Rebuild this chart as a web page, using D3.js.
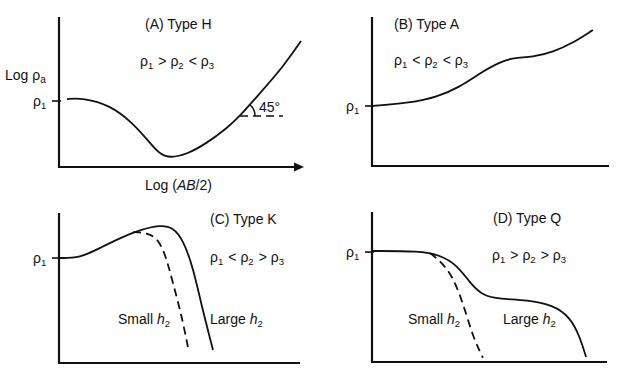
<!DOCTYPE html>
<html>
<head>
<meta charset="utf-8">
<script src="https://cdn.jsdelivr.net/npm/d3@7"></script>
<style>
  body { margin: 0; background: #fff; }
  svg { display: block; font-family: "Liberation Sans", Arial, sans-serif; }
  text { fill: #111; }
</style>
</head>
<body>
<svg id="chart" width="641" height="387"></svg>
<script>
// curve points in [log AB/2, log rho_a] units, axes run 0..10 each way
const curveH = [[0.33,4.53],[0.98,4.6],[2.09,4.13],[3.03,2.93],[3.73,1.6],[4.14,0.85],[4.55,0.6],
  [5.25,0.85],[6.07,1.6],[6.89,2.6],[7.42,3.4],[8.24,4.93],[9.18,6.67],[9.92,8.4]];
const curveA = [[0.04,4.03],[1.6,4.23],[2.74,4.63],[3.71,5.3],[4.56,6.24],[5.4,6.98],[5.95,7.25],
  [6.79,7.32],[7.64,7.65],[8.48,8.26],[9.32,9.13]];
const curveKLarge = [[0.0,7.0],[0.87,7.0],[1.7,7.67],[2.53,8.33],[3.36,8.87],[4.19,9.2],[4.73,9.05],
  [5.15,8.2],[5.56,6.4],[5.93,3.73],[6.39,0.87]];
const curveKSmall = [[3.07,8.73],[3.65,8.67],[4.07,8.33],[4.4,7.33],[4.73,5.33],[5.1,3.07],[5.35,1.07]];
const curveQLarge = [[0.0,7.4],[2.04,7.4],[2.89,7.13],[3.62,6.47],[4.17,5.27],[4.72,4.4],[5.45,4.2],
  [6.6,4.13],[7.7,3.8],[8.43,3.0],[8.85,1.67],[9.11,0.33]];
const curveQSmall = [[2.47,7.27],[3.19,6.33],[3.62,5.0],[3.96,3.47],[4.3,1.67],[4.72,0.27]];
const rho1Level = { A: 4.4, B: 4.03, C: 7.0, D: 7.33 };
const angleStart = [7.42, 3.4];   // where the 45 degree tangent is marked
const angleLineEnd = 9.18;

const svg = d3.select('#chart');
const ink = '#111';
const FS = 14;

// ─── panel frames (pixel layout) ───────────────────────────────
const panels = {
  A: { x0: 59, x1: 303, y0: 167, y1: 17 },
  B: { x0: 372, x1: 609, y0: 166, y1: 17 },
  C: { x0: 59, x1: 300, y0: 363, y1: 213 },
  D: { x0: 372, x1: 607, y0: 362, y1: 212 }
};

function scalesFor(p) {
  return {
    x: d3.scaleLinear().domain([0, 10]).range([p.x0, p.x1]),
    y: d3.scaleLinear().domain([0, 10]).range([p.y0, p.y1])
  };
}

const line = s => d3.line().x(d => s.x(d[0])).y(d => s.y(d[1])).curve(d3.curveBasis);

// text with optional subscripts / italics
function rhoText(g, x, y, parts, size) {
  const t = g.append('text').attr('x', x).attr('y', y).style('font-size', size + 'px');
  parts.forEach(p => {
    if (p.sub) {
      t.append('tspan').text(p.text).attr('dy', 3).style('font-size', (size * 0.68) + 'px');
      t.append('tspan').text('\u200a').attr('dy', -3);
    } else {
      t.append('tspan').text(p.text).style('font-style', p.italic ? 'italic' : null);
    }
  });
  return t;
}

function relation(g, x, y, ops) {
  const parts = [{ text: 'ρ' }, { text: '1', sub: true }, { text: ' ' + ops[0] + ' ρ' }, { text: '2', sub: true },
    { text: ' ' + ops[1] + ' ρ' }, { text: '3', sub: true }];
  rhoText(g, x, y, parts, FS);
}

function drawPanel(key, arrow) {
  const p = panels[key];
  const s = scalesFor(p);
  const g = svg.append('g');

  g.append('path')
    .attr('d', `M${p.x0},${p.y1} V${p.y0} H${arrow ? p.x1 - 6 : p.x1}`)
    .attr('fill', 'none').attr('stroke', ink).attr('stroke-width', 2.2);
  if (arrow) {
    g.append('path')
      .attr('d', `M${p.x1 - 9},${p.y0 - 4.5} L${p.x1 + 1},${p.y0} L${p.x1 - 9},${p.y0 + 4.5} Z`)
      .attr('fill', ink);
  }
  // rho1 tick
  const ty = s.y(rho1Level[key]);
  g.append('line').attr('x1', p.x0 - 7).attr('x2', p.x0 + 2).attr('y1', ty).attr('y2', ty)
    .attr('stroke', ink).attr('stroke-width', 1.6);
  rhoText(g, p.x0 - 26, ty + 5, [{ text: 'ρ' }, { text: '1', sub: true }], FS);

  return { g, s };
}

function curve(g, s, data, dashed) {
  g.append('path').datum(data).attr('d', line(s)).attr('fill', 'none')
    .attr('stroke', ink).attr('stroke-width', 1.8)
    .attr('stroke-dasharray', dashed ? '8,5' : null);
}

// ─── (A) Type H ───────────────────────────────
{
  const { g, s } = drawPanel('A', true);
  curve(g, s, curveH);
  const ax = s.x(angleStart[0]), ay = s.y(angleStart[1]);
  g.append('line').attr('x1', ax).attr('x2', s.x(angleLineEnd)).attr('y1', ay).attr('y2', ay)
    .attr('stroke', ink).attr('stroke-width', 1.6).attr('stroke-dasharray', '8,5');
  const r = 15;
  const arc = d3.arc().innerRadius(r).outerRadius(r).startAngle(Math.PI / 2).endAngle(Math.PI / 2 - 0.85);
  g.append('path').attr('d', arc()).attr('transform', `translate(${ax},${ay})`)
    .attr('fill', 'none').attr('stroke', ink).attr('stroke-width', 1.5);
  g.append('text').attr('x', 259).attr('y', 112).style('font-size', FS + 'px').text('45°');

  g.append('text').attr('x', 145).attr('y', 29).style('font-size', FS + 'px').text('(A) Type H');
  relation(g, 140, 66, ['>', '<']);
  const yl = g.append('text').attr('x', 5).attr('y', 80).style('font-size', FS + 'px');
  yl.append('tspan').text('Log ρ');
  yl.append('tspan').text('a').attr('dy', 3).style('font-size', '10px');
  const xl = g.append('text').attr('x', 145).attr('y', 190).style('font-size', FS + 'px');
  xl.append('tspan').text('Log (');
  xl.append('tspan').text('AB').style('font-style', 'italic');
  xl.append('tspan').text('/2)');
}

// ─── (B) Type A ───────────────────────────────
{
  const { g, s } = drawPanel('B', false);
  curve(g, s, curveA);
  g.append('text').attr('x', 394).attr('y', 29).style('font-size', FS + 'px').text('(B) Type A');
  relation(g, 394, 65, ['<', '<']);
}

// ─── (C) Type K ───────────────────────────────
{
  const { g, s } = drawPanel('C', false);
  curve(g, s, curveKLarge);
  curve(g, s, curveKSmall, true);
  g.append('text').attr('x', 210).attr('y', 224).style('font-size', FS + 'px').text('(C) Type K');
  relation(g, 210, 262, ['<', '>']);
  rhoText(g, 118, 324, [{ text: 'Small ' }, { text: 'h', italic: true }, { text: '2', sub: true }], FS);
  rhoText(g, 210, 324, [{ text: 'Large ' }, { text: 'h', italic: true }, { text: '2', sub: true }], FS);
}

// ─── (D) Type Q ───────────────────────────────
{
  const { g, s } = drawPanel('D', false);
  curve(g, s, curveQLarge);
  curve(g, s, curveQSmall, true);
  g.append('text').attr('x', 493).attr('y', 223).style('font-size', FS + 'px').text('(D) Type Q');
  relation(g, 492, 260, ['>', '>']);
  rhoText(g, 408, 324, [{ text: 'Small ' }, { text: 'h', italic: true }, { text: '2', sub: true }], FS);
  rhoText(g, 503, 324, [{ text: 'Large ' }, { text: 'h', italic: true }, { text: '2', sub: true }], FS);
}
</script>
</body>
</html>
